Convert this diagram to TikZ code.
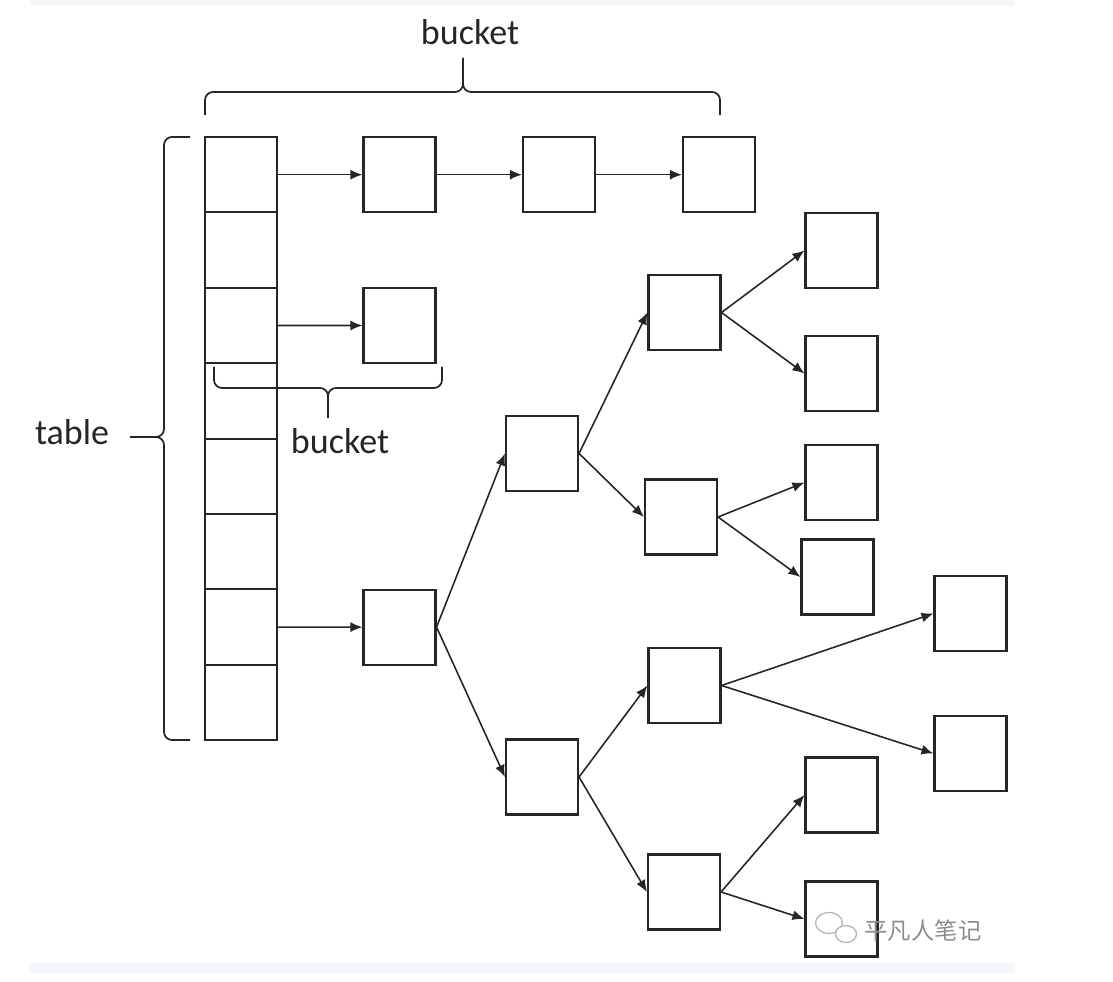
\documentclass[tikz,border=0pt]{standalone}
\usepackage{fontspec}
\setmainfont{Carlito}
\newfontfamily\cjk{Noto Sans CJK SC}
\usetikzlibrary{arrows.meta}
\definecolor{strip}{HTML}{F3F6FA}
\begin{document}
\begin{tikzpicture}[x=0.02cm,y=-0.02cm,
    box/.style={draw=black!85,line width=1.2pt,minimum width=1.44cm,minimum height=1.5cm,inner sep=0pt},
    cell/.style={box,minimum height=1.508cm},
    link/.style={draw=black!85,line width=0.9pt,-{Latex[length=2.4mm,width=2mm]}},
    brace/.style={draw=black!85,line width=1pt,rounded corners=0.16cm},
    lbl/.style={text=black!85,font=\fontsize{20.5}{24}\selectfont}]
    \useasboundingbox (0,0) rectangle (1113,982);
    \fill[strip] (30,0) rectangle (1015,6); \fill[strip] (30,963) rectangle (1015,973);
    % table
    \foreach \i in {1,...,8} \node[cell] (t\i) at (241,{137+75.4*(\i-0.5)}) {};
    % buckets as lists
    \node[box] (a1) at (399.5,174.7) {}; \node[box] (a2) at (559,174.7) {};
    \node[box] (a3) at (719,174.7) {}; \node[box] (b1) at (399.5,325.5) {};
    % bucket as tree
    \node[box] (r) at (399.5,627.1) {};
    \node[box] (p) at (542,453.5) {}; \node[box] (q) at (542,777) {};
    \node[box] (p1) at (684.5,312.5) {}; \node[box] (p2) at (681,517) {};
    \node[box] (q1) at (684.5,685.5) {}; \node[box] (q2) at (684,892) {};
    \node[box] (p1a) at (841.5,250.5) {}; \node[box] (p1b) at (841.5,373.5) {};
    \node[box] (p2a) at (841.5,482.5) {}; \node[box] (p2b) at (837.5,577) {};
    \node[box] (q1a) at (970.5,613.5) {}; \node[box] (q1b) at (970.5,753.5) {};
    \node[box] (q2a) at (841.5,795) {}; \node[box] (q2b) at (841.5,919) {};
    \draw[link] (t1.east) -- (a1.west); \draw[link] (a1.east) -- (a2.west);
    \draw[link] (a2.east) -- (a3.west); \draw[link] (t3.east) -- (b1.west);
    \draw[link] (t7.east) -- (r.west);
    \draw[link] (r.east) -- (p.west); \draw[link] (r.east) -- (q.west);
    \draw[link] (p.east) -- (p1.west); \draw[link] (p.east) -- (p2.west);
    \draw[link] (q.east) -- (q1.west); \draw[link] (q.east) -- (q2.west);
    \draw[link] (p1.east) -- (p1a.west); \draw[link] (p1.east) -- (p1b.west);
    \draw[link] (p2.east) -- (p2a.west); \draw[link] (p2.east) -- (p2b.west);
    \draw[link] (q1.east) -- (q1a.west); \draw[link] (q1.east) -- (q1b.west);
    \draw[link] (q2.east) -- (q2a.west); \draw[link] (q2.east) -- (q2b.west);
    % braces
    \draw[brace] (205,115) |- (463,92) -- (463,58); \draw[brace] (720,115) |- (463,92) -- (463,58);
    \draw[brace] (214,367) |- (328,388) -- (328,418); \draw[brace] (442,367) |- (328,388) -- (328,418);
    \draw[brace] (190,137) -| (164,437) -- (130,437); \draw[brace] (190,740) -| (164,437) -- (130,437);
    \node[lbl] (top) at (470,32) {bucket}; \node[lbl] (tbl) at (72,432) {table};
    \node[lbl] (sub) at (340,441) {bucket};
    % watermark
    \draw[black!30,line width=0.7pt,fill=white] (829,923) ellipse (0.27cm and 0.21cm);
    \draw[black!30,line width=0.7pt,fill=white] (846,934) ellipse (0.21cm and 0.17cm);
    \node[text=black!45,font=\cjk\fontsize{13.3}{16}\selectfont] (wm) at (923,931) {平凡人笔记};
\end{tikzpicture}
\end{document}
